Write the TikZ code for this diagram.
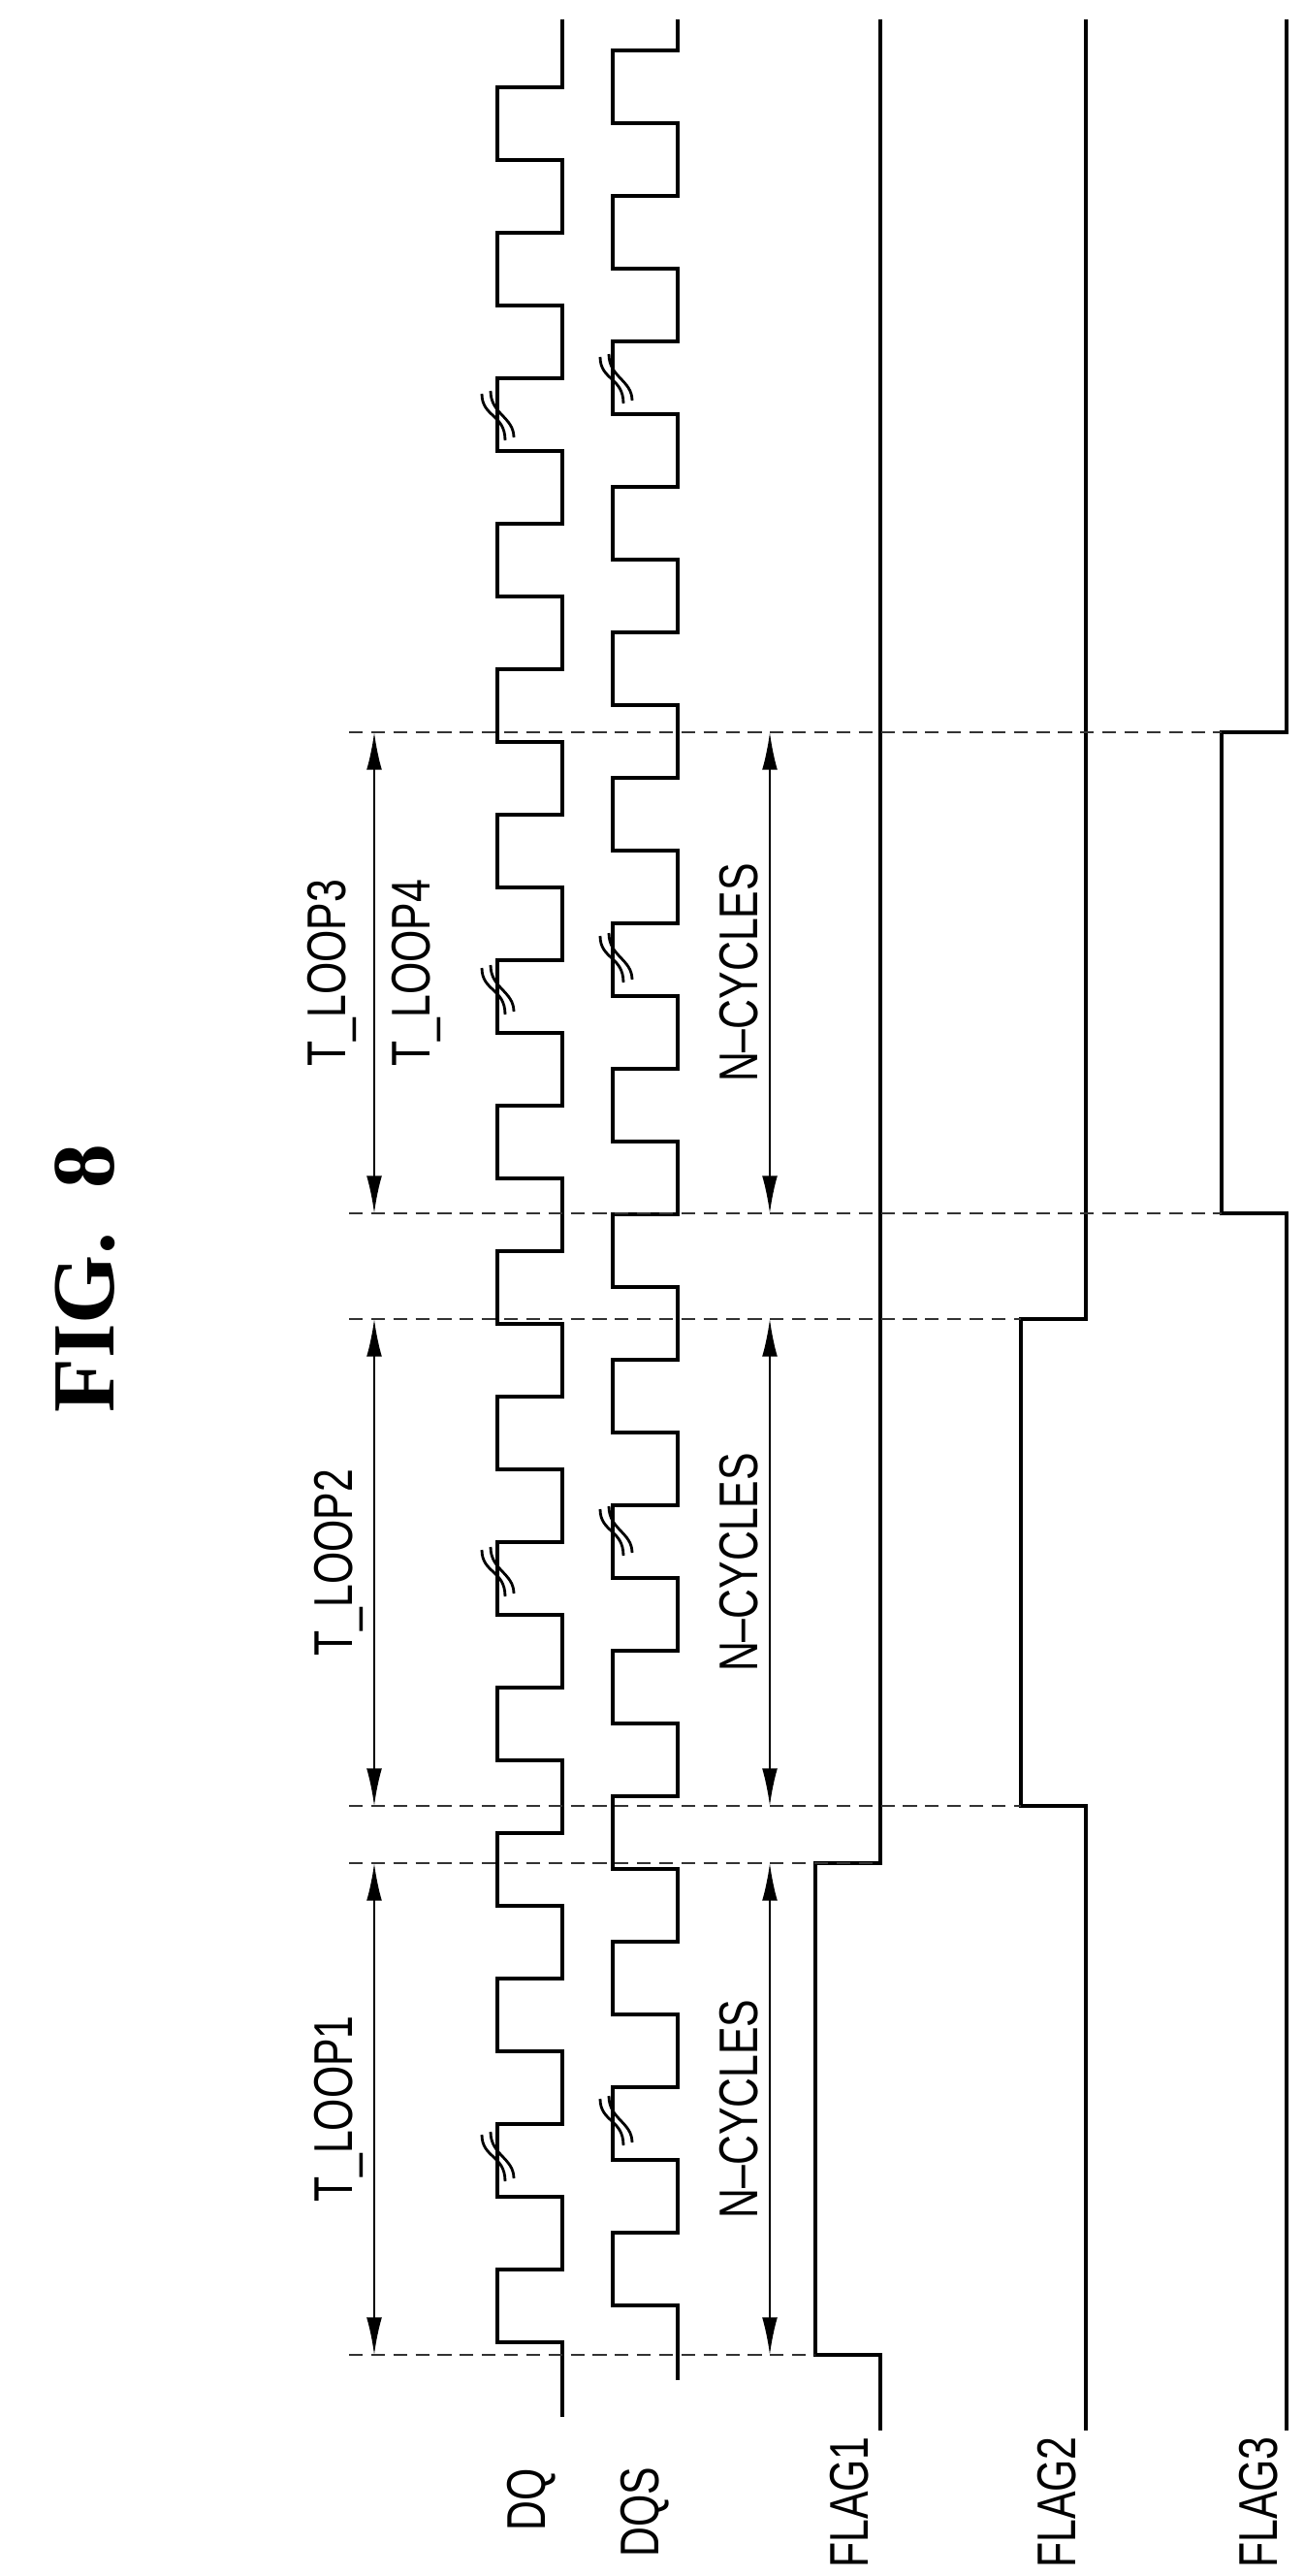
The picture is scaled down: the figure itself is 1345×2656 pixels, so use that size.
\documentclass[tikz,border=0pt]{standalone}
\usepackage{fontspec}
\setmainfont{Liberation Sans}
\newfontfamily\figfont{Liberation Serif}
\usetikzlibrary{arrows.meta}
\newcommand{\nar}[1]{\scalebox{0.76}[1]{#1}}
\tikzset{
	sig/.style={line width=1.1pt, line join=miter},
	markline/.style={dashed, dash pattern=on 4pt off 2.5pt, line width=0.5pt, black!80},
	span/.style={{Latex[length=11pt,width=4.5pt]}-{Latex[length=11pt,width=4.5pt]}, line width=0.6pt},
	lbl/.style={rotate=90, inner sep=1pt, font=\fontsize{16}{19}\selectfont},
	brkline/.style={line width=0.8pt}
}
\newcommand{\brk}[2]{%
	\draw[brkline] (#1-16,#2-24) .. controls (#1-16,#2) and (#1+8,#2-3) .. (#1+8,#2+24);
	\draw[brkline] (#1-7,#2-27) .. controls (#1-7,#2-3) and (#1+17,#2) .. (#1+17,#2+21);}
\begin{document}
\begin{tikzpicture}[x=0.01cm,y=-0.01cm]
	\useasboundingbox (0,0) rectangle (1345,2656);
	
	%title
	\node[rotate=90, font=\figfont\bfseries\fontsize{26}{30}\selectfont] (fig) at (88,1318) {FIG.\ \ 8};
	
	%signal names
	\node[lbl] (dq) at (548,2577) {\nar{DQ}};
	\node[lbl] (dqs) at (665,2590) {\nar{DQS}};
	\node[lbl] (flag1) at (876,2580) {\nar{FLAG1}};
	\node[lbl] (flag2) at (1090,2580) {\nar{FLAG2}};
	\node[lbl] (flag3) at (1298,2580) {\nar{FLAG3}};
	
	%waveforms
	\draw[sig] (580,2492) \foreach \k in {0,...,15}{ -- (580,{2415-150*\k}) -- (513,{2415-150*\k}) -- (513,{2340-150*\k}) -- (580,{2340-150*\k}) } -- (580,20);
	\draw[sig] (699,2454) \foreach \k in {0,...,15}{ -- (699,{2377-150*\k}) -- (632,{2377-150*\k}) -- (632,{2302-150*\k}) -- (699,{2302-150*\k}) } -- (699,20);
	\draw[sig] (908,2506) -- (908,2428) -- (841,2428) -- (841,1921) -- (908,1921) -- (908,20);
	\draw[sig] (1120,2506) -- (1120,1862) -- (1053,1862) -- (1053,1360) -- (1120,1360) -- (1120,20);
	\draw[sig] (1327,2506) -- (1327,1251) -- (1260,1251) -- (1260,755) -- (1327,755) -- (1327,20);
	
	%breaks
	\foreach \y in {2225,1622,1022,430} { \brk{513}{\y} }
	\foreach \y in {2188,1580,989,392} { \brk{635}{\y} }
	
	%timing marks
	\foreach \n/\y/\e in {a/2428/841, b/1921/908, c/1862/1053, d/1360/1053, e/1251/1260, f/755/1260} {
		\coordinate (t\n) at (386,\y);
		\coordinate (c\n) at (794,\y);
		\draw[markline] (360,\y) -- (\e,\y);
	}
	
	%loop times and cycle counts
	\draw[span] (ta) -- (tb) node[midway, lbl, anchor=south, inner sep=3pt] (loop1) {\nar{T\_LOOP1}};
	\draw[span] (tc) -- (td) node[midway, lbl, anchor=south, inner sep=3pt] (loop2) {\nar{T\_LOOP2}};
	\draw[span] (te) -- (tf) node[midway, lbl, anchor=south, inner sep=5pt] (loop3) {\nar{T\_LOOP3}}
		node[midway, lbl, anchor=north, inner sep=5pt] (loop4) {\nar{T\_LOOP4}};
	\draw[span] (ca) -- (cb) node[midway, lbl, anchor=south, inner sep=3pt] (cyc1) {\nar{N--CYCLES}};
	\draw[span] (cc) -- (cd) node[midway, lbl, anchor=south, inner sep=3pt] (cyc2) {\nar{N--CYCLES}};
	\draw[span] (ce) -- (cf) node[midway, lbl, anchor=south, inner sep=3pt] (cyc3) {\nar{N--CYCLES}};
	
\end{tikzpicture}
\end{document}
